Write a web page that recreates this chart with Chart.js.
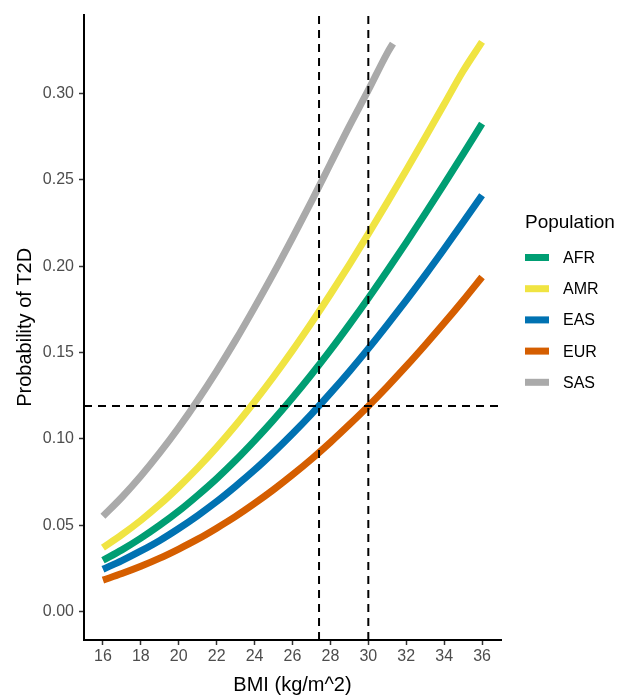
<!DOCTYPE html>
<html>
<head>
<meta charset="utf-8">
<script src="https://cdn.jsdelivr.net/npm/chart.js@4.4.1/dist/chart.umd.min.js"></script>
<style>
  body { margin: 0; background: #fff; }
  canvas { display: block; }
</style>
</head>
<body>
<canvas id="T2DChart" width="633" height="696"></canvas>
<script>
// BMI grid shared by AFR, AMR, EAS, EUR
var bmi = [16, 17, 18, 19, 20, 21, 22, 23, 24, 25, 26, 27, 28, 29, 30, 31, 32, 33, 34, 35, 36];

var afr = [0.0297, 0.0357, 0.0425, 0.0500, 0.0582, 0.0673, 0.0770, 0.0876, 0.0990, 0.1110, 0.1238,
           0.1373, 0.1514, 0.1662, 0.1815, 0.1974, 0.2137, 0.2305, 0.2476, 0.2649, 0.2826];
var amr = [0.0370, 0.0445, 0.0528, 0.0620, 0.0722, 0.0832, 0.0951, 0.1079, 0.1216, 0.1360, 0.1512,
           0.1672, 0.1838, 0.2010, 0.2188, 0.2370, 0.2556, 0.2746, 0.2938, 0.3131, 0.3300];
var eas = [0.0245, 0.0295, 0.0351, 0.0412, 0.0481, 0.0556, 0.0637, 0.0726, 0.0820, 0.0922, 0.1030,
           0.1144, 0.1265, 0.1391, 0.1523, 0.1661, 0.1803, 0.1949, 0.2100, 0.2255, 0.2412];
var eur = [0.0182, 0.0220, 0.0262, 0.0309, 0.0362, 0.0419, 0.0483, 0.0551, 0.0626, 0.0706, 0.0792,
           0.0883, 0.0980, 0.1083, 0.1190, 0.1303, 0.1421, 0.1544, 0.1671, 0.1802, 0.1938];

// SAS stops earlier
var sasBmi = [16, 17, 18, 19, 20, 21, 22, 23, 24, 25, 26, 27, 28, 29, 30, 31, 31.3];
var sas = [0.0552, 0.0662, 0.0785, 0.0920, 0.1066, 0.1224, 0.1393, 0.1572, 0.1762, 0.1959, 0.2165,
           0.2376, 0.2594, 0.2812, 0.3020, 0.3235, 0.3290];

var populations = ["AFR", "AMR", "EAS", "EUR", "SAS"];
var popColors = ["#009E73", "#F0E442", "#0072B2", "#D55E00", "#AAAAAA"];

// reference lines
var bmiCutoffs = [27.4, 30];
var probCutoff = 0.119;

var xTicks = [16, 18, 20, 22, 24, 26, 28, 30, 32, 34, 36];
var yTicks = [0, 0.05, 0.10, 0.15, 0.20, 0.25, 0.30];

var xMin = 15, xMax = 37;
var yMin = -0.0165, yMax = 0.3458;

var FONT = "'Liberation Sans', Arial, Helvetica, sans-serif";

function pts(xs, ys) {
    return xs.map(function (x, i) { return { x: x, y: ys[i] }; });
}

var curves = [pts(bmi, afr), pts(bmi, amr), pts(bmi, eas), pts(bmi, eur), pts(sasBmi, sas)];

var datasets = [];
populations.forEach(function (p, i) {
    datasets.push({
        label: p,
        data: curves[i],
        borderColor: popColors[i],
        backgroundColor: popColors[i],
        borderWidth: 7,
        pointRadius: 0,
        cubicInterpolationMode: 'monotone',
        order: 2
    });
});

var dashStyle = { borderColor: '#000', borderWidth: 2, borderDash: [8, 6], pointRadius: 0, order: 1 };
bmiCutoffs.forEach(function (c) {
    datasets.push(Object.assign({ label: 'cut', data: [{ x: c, y: yMin }, { x: c, y: yMax }] }, dashStyle));
});
datasets.push(Object.assign({ label: 'cut', data: [{ x: xMin, y: probCutoff }, { x: xMax, y: probCutoff }] }, dashStyle));

// legend drawn by hand so the title lines up with the swatches
var legendPlugin = {
    id: 'popLegend',
    afterDraw: function (chart) {
        var ctx = chart.ctx;
        ctx.save();
        ctx.fillStyle = '#000';
        ctx.textAlign = 'left';
        ctx.textBaseline = 'middle';
        ctx.font = '19px ' + FONT;
        ctx.fillText('Population', 525, 223);
        ctx.font = '16px ' + FONT;
        populations.forEach(function (p, i) {
            var y = 257.5 + i * 31.2;
            ctx.fillStyle = popColors[i];
            ctx.fillRect(525, y - 3.5, 24, 7);
            ctx.fillStyle = '#000';
            ctx.fillText(p, 563, y + 1);
        });
        ctx.restore();
    }
};

var ctx1 = document.getElementById("T2DChart");

var t2dChart = new Chart(ctx1, {
    type: 'line',
    data: { datasets: datasets },
    plugins: [legendPlugin],
    options: {
        responsive: false,
        animation: false,
        devicePixelRatio: 1,
        layout: { padding: { top: 8, right: 132, left: 0, bottom: 0 } },
        plugins: {
            legend: { display: false },
            tooltip: { enabled: false }
        },
        scales: {
            x: {
                type: 'linear',
                min: xMin,
                max: xMax,
                afterBuildTicks: function (s) { s.ticks = xTicks.map(function (v) { return { value: v }; }); },
                afterFit: function (s) { s.height = 56; },
                border: { display: true, color: '#000', width: 2 },
                grid: { drawOnChartArea: false, drawTicks: true, tickLength: 5, tickWidth: 1.5, tickColor: '#333' },
                ticks: {
                    padding: 2,
                    color: '#4D4D4D',
                    font: { family: FONT, size: 16 },
                    maxRotation: 0,
                    callback: function (v) { return String(v); }
                },
                title: {
                    display: true,
                    text: 'BMI (kg/m^2)',
                    color: '#000',
                    font: { family: FONT, size: 20, lineHeight: 1.1 },
                    padding: { top: 0, bottom: 0 }
                }
            },
            y: {
                type: 'linear',
                min: yMin,
                max: yMax,
                afterBuildTicks: function (s) { s.ticks = yTicks.map(function (v) { return { value: v }; }); },
                afterFit: function (s) { s.width = 84; },
                border: { display: true, color: '#000', width: 2 },
                grid: { drawOnChartArea: false, drawTicks: true, tickLength: 5, tickWidth: 1.5, tickColor: '#333' },
                ticks: {
                    padding: 5,
                    color: '#4D4D4D',
                    font: { family: FONT, size: 16 },
                    callback: function (v) { return v.toFixed(2); }
                },
                title: {
                    display: true,
                    text: 'Probability of T2D',
                    color: '#000',
                    font: { family: FONT, size: 20, lineHeight: 1.2 },
                    padding: { top: 13, bottom: 0 }
                }
            }
        }
    }
});
</script>
</body>
</html>
